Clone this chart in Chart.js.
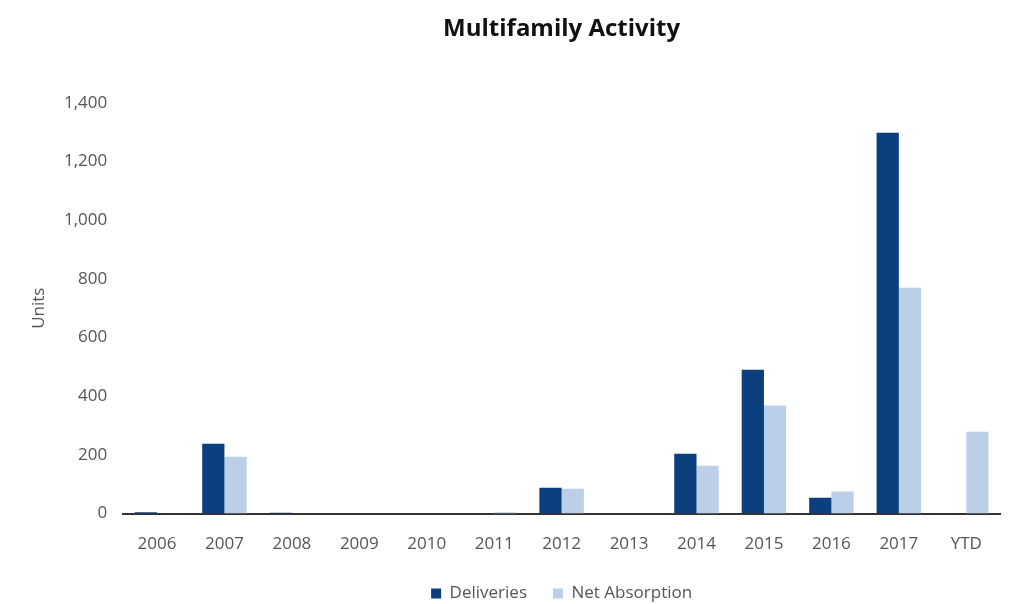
<!DOCTYPE html>
<html>
<head>
<meta charset="utf-8">
<script src="https://cdn.jsdelivr.net/npm/chart.js@4.4.0/dist/chart.umd.min.js"></script>
<style>
  html, body { margin: 0; padding: 0; background: #fff; }
  #wrap { width: 1016px; height: 604px; }
</style>
</head>
<body>
<div id="wrap"><canvas id="chart_mf" width="1016" height="604"></canvas></div>
<script>
"use strict";
// values
var years = ["2006", "2007", "2008", "2009", "2010", "2011", "2012", "2013", "2014", "2015", "2016", "2017", "YTD"];
var deliveries = [5, 238, 3, 0, 0, 0, 88, 0, 204, 490, 54, 1298, 0];
var netAbsorption = [0, 194, 0, 0, 0, 5, 85, 0, 163, 368, 75, 770, 279];
var yTicksMax = 1400;
var yTickStep = 200;

var fontFamily = "'Open Sans', 'DejaVu Sans', sans-serif";
Chart.defaults.font.family = fontFamily;
Chart.defaults.font.size = 17;
Chart.defaults.color = "#555";

var ctx = document.getElementById("chart_mf");
new Chart(ctx, {
    type: "bar",
    data: {
        labels: years,
        datasets: [{
            label: "Deliveries",
            data: deliveries,
            backgroundColor: "#0c3f7e",
            barPercentage: 1,
            categoryPercentage: 0.66
        }, {
            label: "Net Absorption",
            data: netAbsorption,
            backgroundColor: "#bccfe9",
            barPercentage: 1,
            categoryPercentage: 0.66
        }]
    },
    options: {
        responsive: false,
        animation: false,
        layout: {
            padding: { left: 15, right: 16, top: 0, bottom: -8 }
        },
        plugins: {
            title: {
                display: true,
                fullSize: false,
                text: "Multifamily Activity",
                color: "#111",
                font: { size: 24, weight: "bold" },
                padding: { top: 15, bottom: 59 }
            },
            legend: {
                position: "bottom",
                fullSize: false,
                labels: {
                    boxWidth: 10,
                    boxHeight: 10,
                    padding: 26,
                    color: "#555",
                    font: { size: 17 }
                }
            },
            tooltip: { enabled: false }
        },
        scales: {
            x: {
                grid: { display: false, drawTicks: false },
                border: { display: true, color: "#333", width: 2 },
                ticks: { padding: 20 },
                afterFit: function(s) { s.height -= 15; }
            },
            y: {
                min: 0,
                max: yTicksMax,
                grid: { display: false, drawTicks: false },
                border: { display: false },
                ticks: { stepSize: yTickStep, padding: 16 },
                title: {
                    display: true,
                    text: "Units",
                    color: "#555",
                    font: { size: 17, lineHeight: 1 },
                    padding: { top: 16, bottom: 0 }
                }
            }
        }
    }
});
</script>
</body>
</html>
